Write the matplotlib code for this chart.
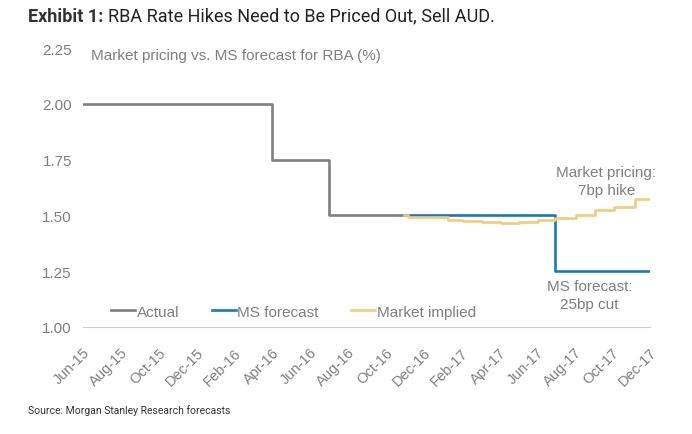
import matplotlib.pyplot as plt
import numpy as np

# month index: 0 = Jun-15 ... 30 = Dec-17
tick_labels = ['Jun-15', 'Aug-15', 'Oct-15', 'Dec-15', 'Feb-16', 'Apr-16', 'Jun-16', 'Aug-16',
               'Oct-16', 'Dec-16', 'Feb-17', 'Apr-17', 'Jun-17', 'Aug-17', 'Oct-17', 'Dec-17']

actual_x = [0, 10, 13, 17]
actual_y = [2.00, 1.75, 1.50, 1.50]

ms_x = [17, 25, 30]
ms_y = [1.50, 1.25, 1.25]

market_x = [17, 17.2, 19.3, 20.1, 21.1, 22.1, 23.1, 24.1, 25.0, 26.1, 27.1, 28.1, 29.2, 30]
market_y = [1.50, 1.493, 1.48, 1.475, 1.47, 1.466, 1.47, 1.48, 1.49, 1.503, 1.525, 1.54, 1.575, 1.575]

grey = '#7f7f7f'
txt = '#808080'
blue = '#1a7ab8'
yellow = '#f0cc7c'

plt.rcParams['font.family'] = ['Liberation Sans', 'DejaVu Sans']

fig = plt.figure(figsize=(6.92, 4.35), dpi=100)
ax = fig.add_axes([0.120, 0.246, 0.819, 0.641])

ax.step(actual_x, actual_y, where='post', color=grey, lw=1.9, label='Actual')
ax.step(ms_x, ms_y, where='post', color=blue, lw=1.9, label='MS forecast')
ax.step(market_x, market_y, where='post', color=yellow, lw=1.9, label='Market implied')

ax.set_xlim(0, 30)
ax.set_ylim(1.0, 2.25)
ax.set_yticks(np.arange(1.0, 2.26, 0.25))
ax.set_yticklabels([f'{v:.2f}' for v in np.arange(1.0, 2.26, 0.25)], fontsize=11, color=txt)
ax.set_xticks(np.arange(0, 31, 2))
ax.set_xticklabels(tick_labels, rotation=45, ha='right', rotation_mode='anchor',
                   fontsize=10.5, color=txt)
ax.tick_params(length=0, pad=8)
ax.tick_params(axis='x', pad=13)

for s in ['top', 'right', 'left']:
    ax.spines[s].set_visible(False)
ax.spines['bottom'].set_color('#d0d0d0')

ax.text(0.4, 2.22, 'Market pricing vs. MS forecast for RBA (%)', fontsize=11, color=txt, va='center')

ax.legend(loc='lower left', bbox_to_anchor=(0.025, -0.02), ncol=3, frameon=False, fontsize=11,
          labelcolor=txt, handlelength=1.6, handletextpad=0.1, columnspacing=2.1)

ax.text(27.7, 1.655, 'Market pricing:\n7bp hike', fontsize=11, color=txt, ha='center', va='center',
        linespacing=1.35)
ax.text(26.8, 1.145, 'MS forecast:\n25bp cut', fontsize=11, color=txt, ha='center', va='center',
        linespacing=1.35)

fig.text(0.040, 0.962, 'Exhibit 1:', fontsize=13, fontweight='bold', color='#333333',
         family='Roboto', va='center')
fig.text(0.156, 0.962, 'RBA Rate Hikes Need to Be Priced Out, Sell AUD.', fontsize=13,
         color='#222222', family='Roboto', va='center')
fig.text(0.04, 0.057, 'Source: Morgan Stanley Research forecasts', fontsize=7.5, color='#333333',
         family='Roboto', va='center')

fig.savefig('out.png', dpi=100)
